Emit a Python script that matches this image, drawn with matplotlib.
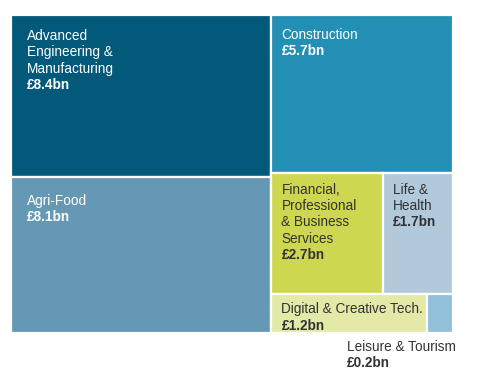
import matplotlib
matplotlib.use("Agg")
import matplotlib.pyplot as plt
from matplotlib.patches import Rectangle
from matplotlib.transforms import offset_copy

plt.rcParams['font.family'] = ['Liberation Sans', 'DejaVu Sans']

# sectors and values (GBP bn)
sectors = ["Advanced\nEngineering &\nManufacturing", "Agri-Food", "Construction",
           "Financial,\nProfessional\n& Business\nServices", "Life &\nHealth",
           "Digital & Creative Tech.", "Leisure & Tourism"]
values = [8.4, 8.1, 5.7, 2.7, 1.7, 1.2, 0.2]
value_labels = ["£8.4bn", "£8.1bn", "£5.7bn", "£2.7bn", "£1.7bn", "£1.2bn", "£0.2bn"]

colors = ["#02597a", "#6598b4", "#238fb5", "#cdd74f", "#b2c9dc", "#e4e9a7", "#92bfda"]
text_colors = ["white", "white", "white", "#333333", "#333333", "#333333", "#333333"]
# label offset (px) from tile top-left to first baseline
pads = [(16, 25), (16, 28), (10, 24), (10, 21), (10, 21), (10, 19), (-106, 18)]

# tiling plan: 'h' = side by side, 'v' = stacked
plan = ('h', [('v', [0, 1]), ('v', [2, ('h', [3, 4]), ('h', [5, 6])])])

W, H = 442, 318


def total(node):
    if isinstance(node, int):
        return values[node]
    return sum(total(c) for c in node[1])


def tile(node, x, y, w, h, out):
    if isinstance(node, int):
        out[node] = (x, y, w, h)
        return
    direction, kids = node
    s = total(node)
    for k in kids:
        f = total(k) / s
        if direction == 'h':
            tile(k, x, y, w * f, h, out)
            x += w * f
        else:
            tile(k, x, y, w, h * f, out)
            y += h * f


rects = {}
tile(plan, 0, 0, W, H, rects)

dpi = 100
fig = plt.figure(figsize=(4.8, 3.77), dpi=dpi)
ax = fig.add_axes([11 / 480, (377 - 333) / 377, W / 480, H / 377])
ax.set_xlim(0, W)
ax.set_ylim(H, 0)
ax.axis('off')

px = 72 / dpi
line_h = 16.4

for i in range(len(values)):
    x, y, w, h = rects[i]
    ax.add_patch(Rectangle((x, y), w, h, facecolor=colors[i], edgecolor='white', linewidth=1.6))
    lines = sectors[i].split('\n') + [value_labels[i]]
    dx, dy = pads[i]
    ax_x, ax_y = x, y
    if i == len(values) - 1:
        # small tile: label sits below it, measured from its bottom-right
        ax_x, ax_y = x + w, y + h
    for j, ln in enumerate(lines):
        tr = offset_copy(ax.transData, fig=fig, x=dx * px, y=-(dy + j * line_h) * px, units='points')
        ax.text(ax_x, ax_y, ln, transform=tr, ha='left', va='baseline', fontsize=9.8,
                color=text_colors[i], fontweight='bold' if j == len(lines) - 1 else 'normal',
                clip_on=False)

fig.savefig("out.png", dpi=dpi)
